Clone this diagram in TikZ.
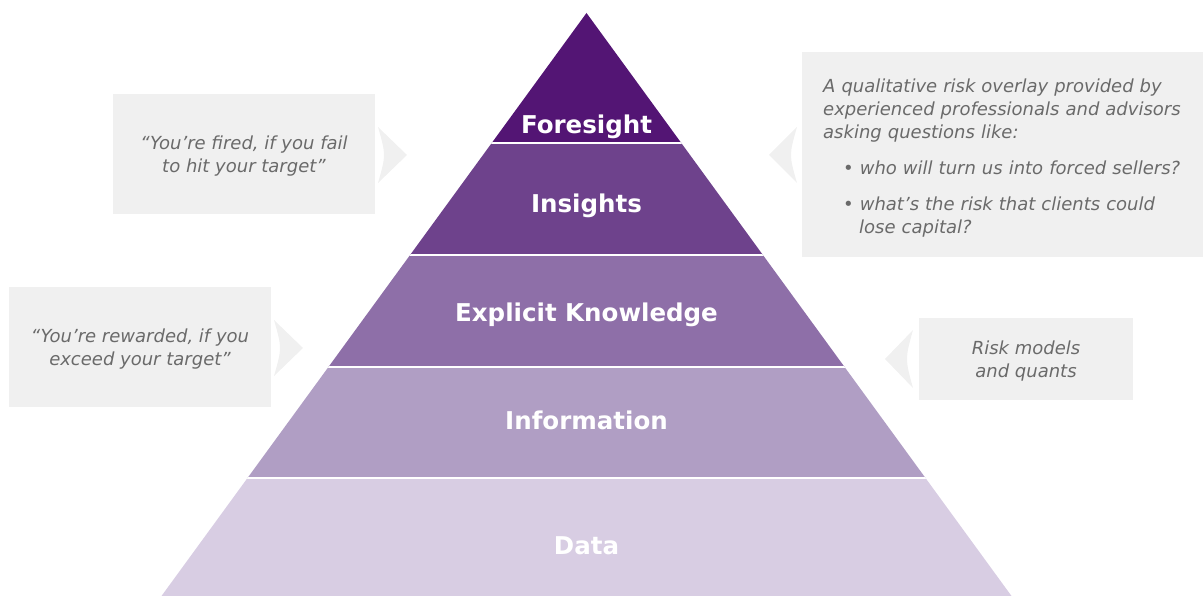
\documentclass[tikz,border=0pt]{standalone}
\usepackage{fontspec}
\setmainfont{DejaVu Sans}
\newfontfamily\labelfont{DejaVu Sans}
\definecolor{foresightpurple}{HTML}{531574}
\definecolor{insightspurple}{HTML}{6E428C}
\definecolor{explicitpurple}{HTML}{8E6FA8}
\definecolor{informationlilac}{HTML}{B09EC4}
\definecolor{datalilac}{HTML}{D8CDE3}
\definecolor{calloutgray}{HTML}{F0F0F0}
\definecolor{quotegray}{HTML}{6A6A6A}
\begin{document}
\begin{tikzpicture}[x=1pt, y=1pt,
        % Pyramid layer labels
        layer/.style={font=\labelfont\bfseries\fontsize{24.5}{30}\selectfont, text=white},
        % Grey callout boxes
        callout/.style={fill=calloutgray, inner sep=0pt, align=center, text=quotegray, font=\itshape\fontsize{18}{23}\selectfont},
        % Two-line quotes sit a little low in their boxes
        quote/.style={callout, text depth=-5pt},
        % Small pointer triangles
        pointer/.style={fill=calloutgray}
    ]

    \useasboundingbox (0,0) rectangle (1203,596);

    % Pyramid bands, clipped to the triangle
    \begin{scope}
        \clip (161.5,0) -- (586.5,583) -- (1011.5,0) -- cycle;
        \foreach \lo/\hi/\col in {0/118/datalilac, 118/229/informationlilac, 229/341/explicitpurple, 341/453/insightspurple, 453/590/foresightpurple}
            \fill[\col] (150,\lo) rectangle (1020,\hi);
        \foreach \y in {118,229,341,453}
            \draw[white, line width=2pt] (150,\y) -- (1020,\y);
    \end{scope}

    % Layer labels
    \node[layer] (foresight) at (586.5,469) {Foresight};
    \node[layer] (insights) at (586.5,390) {Insights};
    \node[layer] (explicit) at (586.5,281) {Explicit Knowledge};
    \node[layer] (information) at (586.5,176) {Information};
    \node[layer] (data) at (586.5,50) {Data};

    % Left callouts
    \node[quote, minimum width=262pt, minimum height=120pt] (fired) at (244,442) {“You’re fired, if you fail\\to hit your target”};
    \fill[pointer] (378,469) -- (407,441) -- (378,413) .. controls (386,441) .. (378,469);

    \node[quote, minimum width=262pt, minimum height=120pt] (rewarded) at (140,249) {“You’re rewarded, if you\\exceed your target”};
    \fill[pointer] (274,276) -- (303,248) -- (274,220) .. controls (282,248) .. (274,276);

    % Right callouts
    \node[callout, align=left, anchor=west, minimum height=205pt, text width=380pt, inner xsep=21pt] (overlay) at (802,441.5)
        {\rule{0pt}{20pt}A qualitative risk overlay provided by\\
         experienced professionals and advisors\\
         asking questions like:\\[13pt]
         \hspace*{20pt}\textbullet\hspace{6pt}who will turn us into forced sellers?\\[13pt]
         \hspace*{20pt}\textbullet\hspace{6pt}what’s the risk that clients could\\
         \hspace*{36pt}lose capital?};
    \fill[pointer] (797,469) -- (769,441) -- (797,413) .. controls (789,441) .. (797,469);

    \node[quote, minimum width=214pt, minimum height=82pt] (quants) at (1026,237) {Risk models\\and quants};
    \fill[pointer] (913,266) -- (885,237) -- (913,208) .. controls (905,237) .. (913,266);

\end{tikzpicture}
\end{document}
